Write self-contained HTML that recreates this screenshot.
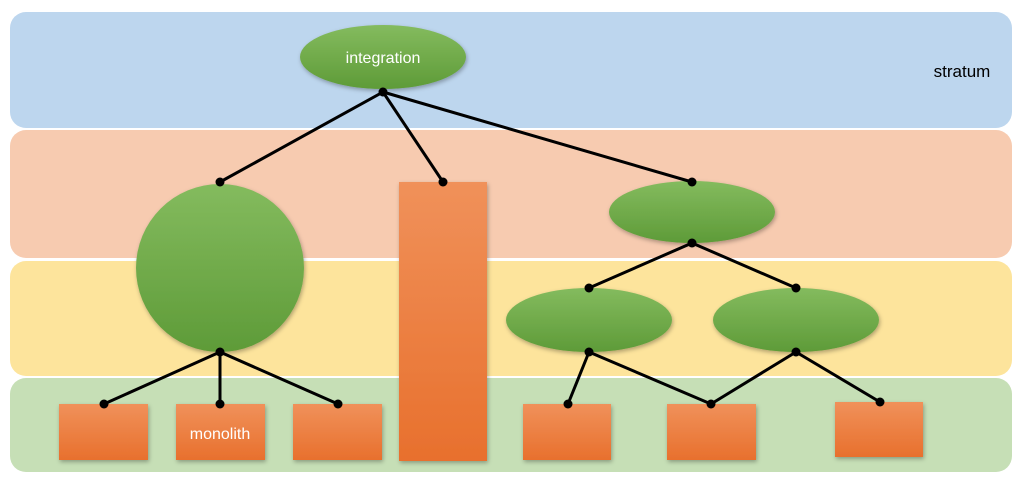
<!DOCTYPE html>
<html><head><meta charset="utf-8"><style>
html,body{margin:0;padding:0;background:#fff;}
svg{display:block;}
text{font-family:"Liberation Sans",Calibri,sans-serif;}
</style></head><body>
<svg width="1024" height="484" viewBox="0 0 1024 484" xmlns="http://www.w3.org/2000/svg">
<defs>
<linearGradient id="g" x1="0" y1="0" x2="0" y2="1"><stop offset="0" stop-color="#84bb5e"/><stop offset="1" stop-color="#5e9b38"/></linearGradient>
<linearGradient id="o" x1="0" y1="0" x2="0" y2="1"><stop offset="0" stop-color="#f0915a"/><stop offset="1" stop-color="#e8702d"/></linearGradient>
<filter id="s" x="-20%" y="-20%" width="140%" height="140%"><feDropShadow dx="1" dy="2" stdDeviation="2" flood-color="#000" flood-opacity="0.3"/></filter>
</defs>
<rect x="10" y="12" width="1002" height="116" rx="16" fill="#bdd6ee"/>
<rect x="10" y="130" width="1002" height="128" rx="16" fill="#f7cbb0"/>
<rect x="10" y="261" width="1002" height="115" rx="16" fill="#fde49c"/>
<rect x="10" y="378" width="1002" height="94" rx="16" fill="#c6dfb6"/>
<text x="962" y="77" font-size="17" text-anchor="middle" fill="#000">stratum</text>

<g filter="url(#s)">
<ellipse cx="383" cy="57" rx="83" ry="32" fill="url(#g)"/>
<circle cx="220" cy="268" r="84" fill="url(#g)"/>
<rect x="399" y="182" width="88" height="279" fill="url(#o)"/>
<ellipse cx="692" cy="212" rx="83" ry="31" fill="url(#g)"/>
<ellipse cx="589" cy="320" rx="83" ry="32" fill="url(#g)"/>
<ellipse cx="796" cy="320" rx="83" ry="32" fill="url(#g)"/>
<rect x="59" y="404" width="89" height="56" fill="url(#o)"/>
<rect x="176" y="404" width="89" height="56" fill="url(#o)"/>
<rect x="293" y="404" width="89" height="56" fill="url(#o)"/>
<rect x="523" y="404" width="88" height="56" fill="url(#o)"/>
<rect x="667" y="404" width="89" height="56" fill="url(#o)"/>
<rect x="835" y="402" width="88" height="55" fill="url(#o)"/>
</g>
<text x="383" y="63" font-size="16" text-anchor="middle" fill="#fff">integration</text>
<text x="220" y="439" font-size="16" text-anchor="middle" fill="#fff">monolith</text>

<g stroke="#000" stroke-width="3" fill="none">
<line x1="383" y1="92" x2="220" y2="182"/>
<line x1="383" y1="92" x2="443" y2="182"/>
<line x1="383" y1="92" x2="692" y2="182"/>
<line x1="220" y1="352" x2="104" y2="404"/>
<line x1="220" y1="352" x2="220" y2="404"/>
<line x1="220" y1="352" x2="338" y2="404"/>
<line x1="692" y1="243" x2="589" y2="288"/>
<line x1="692" y1="243" x2="796" y2="288"/>
<line x1="589" y1="352" x2="568" y2="404"/>
<line x1="589" y1="352" x2="711" y2="404"/>
<line x1="796" y1="352" x2="711" y2="404"/>
<line x1="796" y1="352" x2="880" y2="402"/>
</g>
<g fill="#000">
<circle cx="383" cy="92" r="4.5"/>
<circle cx="220" cy="182" r="4.5"/>
<circle cx="443" cy="182" r="4.5"/>
<circle cx="692" cy="182" r="4.5"/>
<circle cx="220" cy="352" r="4.5"/>
<circle cx="104" cy="404" r="4.5"/>
<circle cx="220" cy="404" r="4.5"/>
<circle cx="338" cy="404" r="4.5"/>
<circle cx="692" cy="243" r="4.5"/>
<circle cx="589" cy="288" r="4.5"/>
<circle cx="796" cy="288" r="4.5"/>
<circle cx="589" cy="352" r="4.5"/>
<circle cx="796" cy="352" r="4.5"/>
<circle cx="568" cy="404" r="4.5"/>
<circle cx="711" cy="404" r="4.5"/>
<circle cx="880" cy="402" r="4.5"/>
</g>
</svg>
</body></html>
